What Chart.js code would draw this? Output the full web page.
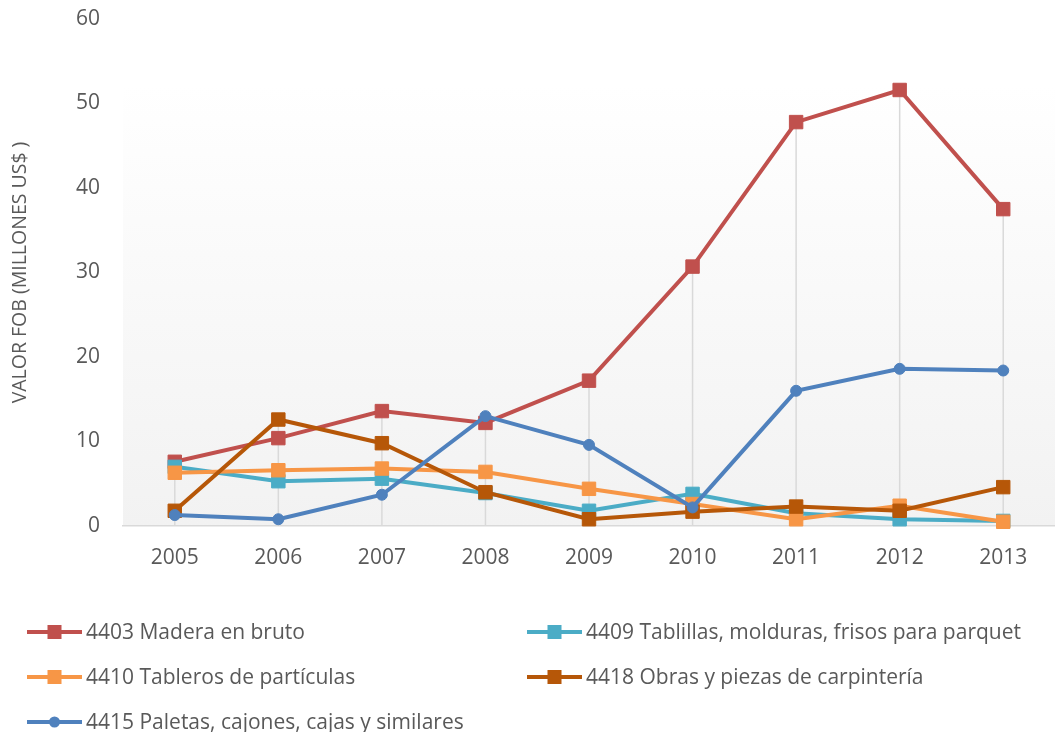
<!DOCTYPE html>
<html>
<head>
<meta charset="utf-8">
<script src="https://cdn.jsdelivr.net/npm/chart.js@4/dist/chart.umd.min.js"></script>
<style>
	html, body { margin: 0; padding: 0; background: #fff; overflow: hidden; }
	#wrap { width: 1055px; height: 732px; position: relative; }
</style>
</head>
<body>
<div id="wrap"><canvas id="my-chart"></canvas></div>
<script>
//==========
// Data

const years = ["2005", "2006", "2007", "2008", "2009", "2010", "2011", "2012", "2013"];
const yTicks = [0, 10, 20, 30, 40, 50, 60];

const madera     = [7.6, 10.4, 13.6, 12.2, 17.2, 30.7, 47.8, 51.6, 37.5];// 4403
const tablillas  = [7.0, 5.3, 5.6, 3.9, 1.8, 3.8, 1.5, 0.8, 0.6];// 4409
const tableros   = [6.3, 6.6, 6.8, 6.4, 4.4, 2.6, 0.8, 2.4, 0.5];// 4410
const obras      = [1.8, 12.6, 9.8, 4.0, 0.8, 1.7, 2.3, 1.8, 4.6];// 4418
const paletas    = [1.3, 0.8, 3.7, 13.0, 9.6, 2.2, 16.0, 18.6, 18.4];// 4415

const FONT = "'Open Sans', 'DejaVu Sans', sans-serif";
const GREY = "#595959";

//==========
// Plugins

// fondo degradado del área de trazado
const plotBg = {
	id: "plotBg",
	beforeDraw(chart){
		const a = chart.chartArea;
		const ctx = chart.ctx;
		const top = a.top + 66;
		const g = ctx.createLinearGradient(0, top, 0, a.bottom);
		g.addColorStop(0, "#ffffff");
		g.addColorStop(1, "#f2f2f2");
		ctx.save();
		ctx.fillStyle = g;
		ctx.fillRect(a.left, top, a.right - a.left, a.bottom - top);
		ctx.restore();
	}
};

// líneas de unión (drop lines) desde el valor máximo
const dropLines = {
	id: "dropLines",
	beforeDatasetsDraw(chart){
		const ctx = chart.ctx;
		const xs = chart.scales.x, ys = chart.scales.y;
		ctx.save();
		ctx.strokeStyle = "#d9d9d9";
		ctx.lineWidth = 1.5;
		for(let i=0; i<years.length; i++){
			let max = 0;
			for(const ds of chart.data.datasets) max = Math.max(max, ds.data[i]);
			const x = xs.getPixelForValue(i);
			ctx.beginPath();
			ctx.moveTo(x, ys.getPixelForValue(max));
			ctx.lineTo(x, chart.chartArea.bottom);
			ctx.stroke();
		}
		ctx.restore();
	}
};

// leyenda en dos columnas
const legendCols = {
	id: "legendCols",
	afterDraw(chart){
		const ctx = chart.ctx;
		const slots = [[27, 632], [527, 632], [27, 677], [527, 677], [27, 722]];
		ctx.save();
		ctx.font = "21px " + FONT;
		ctx.textBaseline = "middle";
		chart.data.datasets.forEach((ds, i)=>{
			const [x, y] = slots[i];
			ctx.strokeStyle = ds.borderColor;
			ctx.lineWidth = 4;
			ctx.beginPath();
			ctx.moveTo(x, y);
			ctx.lineTo(x + 55, y);
			ctx.stroke();
			ctx.fillStyle = ds.borderColor;
			if(ds.pointStyle === "circle"){
				ctx.beginPath();
				ctx.arc(x + 27.5, y, 5.5, 0, Math.PI * 2);
				ctx.fill();
			}else{
				ctx.fillRect(x + 20.5, y - 7, 14, 14);
			}
			ctx.fillStyle = GREY;
			ctx.fillText(ds.label, x + 59, y + 1);
		});
		ctx.restore();
	}
};

//==========
// Chart

function makeSet(label, data, color, style, order){
	return {
		label: label,
		data: data,
		borderColor: color,
		backgroundColor: color,
		borderWidth: 4,
		pointStyle: style,
		pointRadius: style === "circle" ? 5.5 : 9.5,
		pointBorderWidth: 1,
		pointHoverRadius: style === "circle" ? 5.5 : 9.5,
		tension: 0,
		clip: false,
		order: order
	};
}

const ctx = document.getElementById("my-chart").getContext("2d");
const myChart = new Chart(ctx, {
	type: "line",
	data: {
		labels: years,
		datasets: [
			makeSet("4403 Madera en bruto", madera, "#C0504D", "rect", 4),
			makeSet("4409 Tablillas, molduras, frisos para parquet", tablillas, "#4BACC6", "rect", 3),
			makeSet("4410 Tableros de partículas", tableros, "#F79646", "rect", 2),
			makeSet("4418 Obras y piezas de carpintería", obras, "#B65708", "rect", 1),
			makeSet("4415 Paletas, cajones, cajas y similares", paletas, "#4F81BD", "circle", 0)
		]
	},
	options: {
		responsive: true,
		maintainAspectRatio: false,
		animation: false,
		layout: { autoPadding: false, padding: { top: 19, right: 0, left: 0, bottom: 0 } },
		plugins: {
			legend: { display: false },
			tooltip: { enabled: false }
		},
		scales: {
			x: {
				offset: true,
				grid: { display: false, drawTicks: false },
				border: { display: true, color: "#d9d9d9", width: 1.5 },
				ticks: { color: GREY, font: { family: FONT, size: 21 }, padding: 19, maxRotation: 0 },
				afterFit(s){
					s.height = 206;
					s.paddingLeft = 0;
					s.paddingRight = 0;
				}
			},
			y: {
				min: 0,
				max: 60,
				afterBuildTicks(s){ s.ticks = yTicks.map(v=>({value: v})); },
				grid: { display: false, drawTicks: false },
				border: { display: false },
				ticks: { color: GREY, font: { family: FONT, size: 21 }, padding: 23 },
				title: {
					display: true,
					text: "VALOR FOB (MILLONES US$ )",
					color: GREY,
					font: { family: FONT, size: 19.5 },
					padding: { top: 9, bottom: 0 }
				},
				afterFit(s){
					s.width = 123;
					s.paddingTop = 0;
					s.paddingBottom = 0;
				}
			}
		}
	},
	plugins: [plotBg, dropLines, legendCols]
});
</script>
</body>
</html>
